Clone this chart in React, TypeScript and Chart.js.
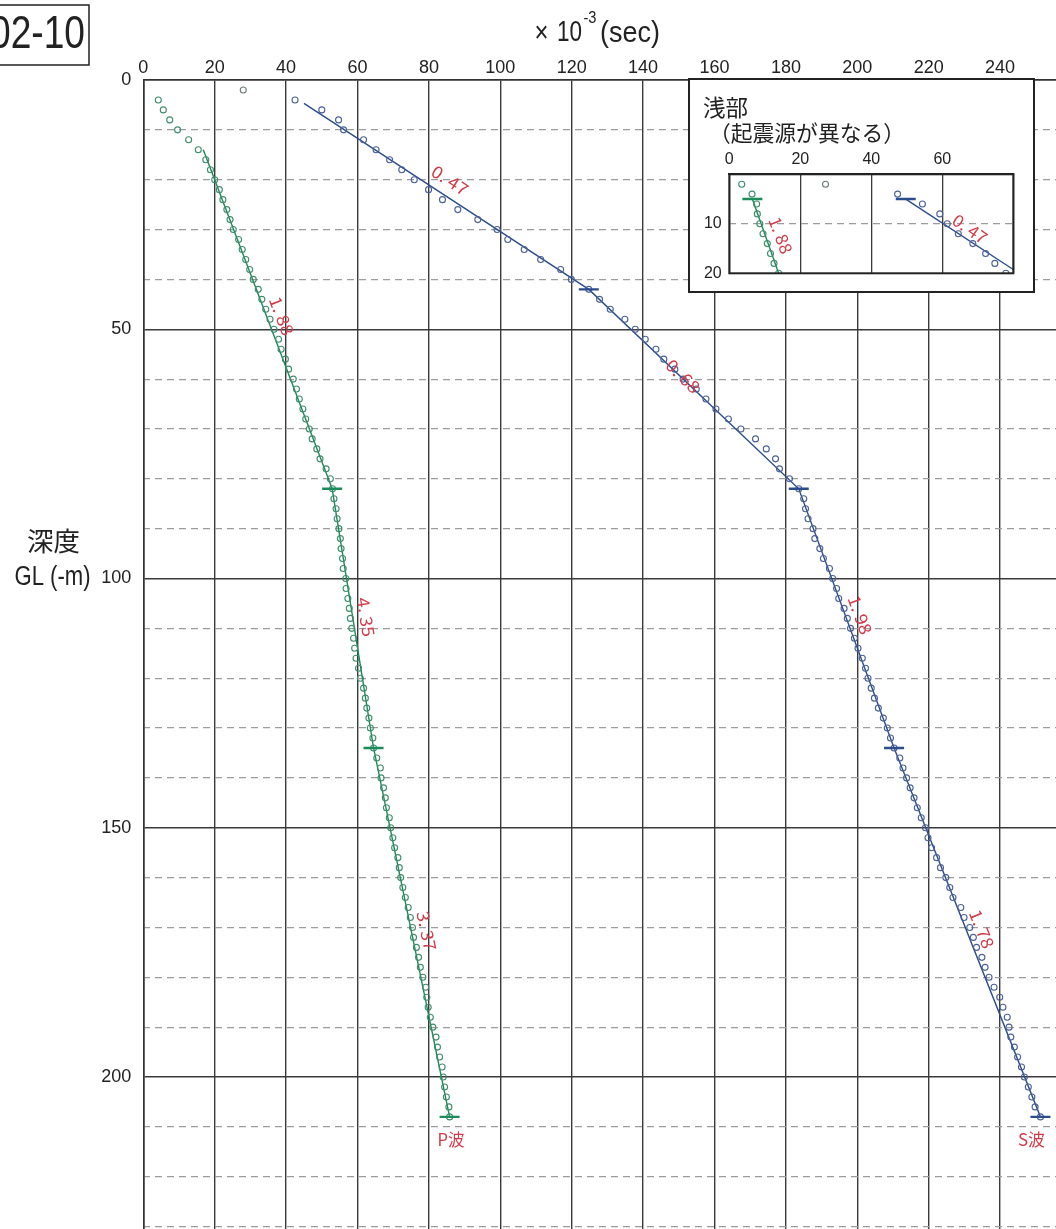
import React, { useEffect, useRef } from "react";
import { Chart, registerables } from "chart.js";
Chart.register(...registerables);

// ---- main chart data (time in 1e-3 s, depth in m) ----
const depths = [4,6,8,10,12,14,16,18,20,22,24,26,28,30,32,34,36,38,40,42,44,46,48,50,52,54,56,58,60,62,64,66,68,70,72,74,76,78,80,82,84,86,88,90,92,94,96,98,100,102,104,106,108,110,112,114,116,118,120,122,124,126,128,130,132,134,136,138,140,142,144,146,148,150,152,154,156,158,160,162,164,166,168,170,172,174,176,178,180,182,184,186,188,190,192,194,196,198,200,202,204,206,208];
const pTimes = [4.2,5.6,7.4,9.6,12.7,15.4,17.5,18.8,20.0,21.3,22.3,23.4,24.3,25.2,26.7,27.7,28.7,29.8,30.8,32.2,33.2,34.3,35.5,36.6,37.9,38.6,39.8,40.7,42.0,42.9,43.7,44.7,45.5,46.5,47.3,48.6,49.5,51.2,52.4,53.0,53.4,54.0,54.3,54.8,55.2,55.4,55.8,56.0,56.7,56.8,57.3,57.7,58.0,58.4,58.9,59.2,59.6,60.3,60.8,61.7,62.2,62.6,63.2,63.6,64.3,64.5,65.4,66.4,66.6,67.3,67.8,68.1,68.9,69.3,69.9,70.4,71.3,71.7,72.1,72.7,73.4,74.2,74.8,75.4,75.7,76.5,77.1,77.6,78.3,79.1,79.4,79.8,80.4,81.1,82.0,82.4,83.0,83.7,84.0,84.4,84.9,85.6,85.8];
const sTimes = [42.5,50.0,54.7,56.1,61.7,65.2,69.0,72.4,75.9,79.9,83.8,88.1,93.7,99.1,102.1,106.7,111.3,116.9,119.9,124.8,127.8,130.8,134.9,137.8,140.6,143.6,145.8,148.9,151.2,154.9,157.6,160.4,163.9,167.4,171.5,174.5,177.1,178.2,181.0,183.6,185.0,185.5,186.2,187.6,188.1,189.5,190.5,192.2,193.1,194.2,194.8,196.3,197.2,198.1,199.2,200.2,201.4,202.3,203.0,203.9,204.8,205.9,207.3,208.4,209.3,210.3,211.9,212.8,213.8,214.8,215.9,216.8,217.9,219.1,219.8,220.8,222.2,223.3,224.8,225.9,226.8,229.0,229.9,231.5,232.5,233.4,234.9,235.8,236.9,238.3,239.9,240.8,242.0,242.5,243.0,244.0,244.9,246.0,246.8,247.9,248.9,249.8,251.3];
const oddTimes = [28.0];
const oddDepths = [2];

const pLineTimes = [16.8, 52.9, 64.5, 85.8];
const pLineDepths = [14, 82, 134, 208];
const sLineTimes = [45.0, 124.8, 183.6, 210.3, 251.3];
const sLineDepths = [4.7, 42, 82, 134, 208];
const pBreakTimes = [52.9, 64.5, 85.8];
const pBreakDepths = [82, 134, 208];
const sBreakTimes = [124.8, 183.6, 210.3, 251.3];
const sBreakDepths = [42, 82, 134, 208];

const slopeTexts = ["0. 47", "0. 68", "1. 98", "1. 78", "1. 88", "4. 35", "3. 37"];
const slopeTimes = [85.9, 151.2, 200.8, 234.9, 38.8, 62.4, 79.4];
const slopeDepths = [20.1, 59.4, 107.3, 170.3, 47.3, 107.7, 170.7];
const slopeAngles = [33, 44, 70, 68, 69, 81, 78];

const waveLabels = ["P波", "S波"];
const waveLabelTimes = [86.2, 248.8];
const waveLabelDepths = [212.5, 212.5];

// ---- inset data ----
const insetPDepths = [2,4,6,8,10,12,14,16,18,20];
const insetPTimes = [3.5,6.4,7.7,7.9,8.6,9.5,10.7,11.6,12.6,13.9];
const insetSDepths = [4,6,8,10,12,14,16,18,20];
const insetSTimes = [47.4,54.4,59.3,61.4,64.5,68.6,72.2,74.8,77.9];
const insetOddTimes = [27.1];
const insetOddDepths = [2];
const insetPLineTimes = [6.5, 13.9];
const insetPLineDepths = [5, 20];
const insetSLineTimes = [49.7, 81.6];
const insetSLineDepths = [5, 20];
const insetSlopeTexts = ["1. 88", "0. 47"];
const insetSlopeTimes = [14.5, 67.8];
const insetSlopeDepths = [12.3, 11.0];
const insetSlopeAngles = [69, 35];

const FONT = '"Liberation Sans Narrow", "Liberation Sans", Arial, sans-serif';
const CJK = '"Noto Sans CJK JP", "Noto Sans", sans-serif';
const RED = "#d23c4a";
const GREEN_LINE = "#1d8a5a";
const BLUE_LINE = "#2c4d8c";
const GREEN_PT = "#3f8d6c";
const BLUE_PT = "#4a6096";
const GRAY_PT = "#6d7d74";
const DARK = "#3a3a3a";
const DASH = "#9c9c9c";

const CW = 1100, CH = 1300;
const PX_X = 3.57, PX_Y = 4.985;
const LEFT = 143.3, TOP = 80;

const zip = (xs: number[], ys: number[]) => xs.map((x, i) => ({ x, y: ys[i] }));

function drawFit(ctx: CanvasRenderingContext2D, text: string, x: number, y: number, w: number, size: number, family: string, color: string, align: CanvasTextAlign = "center", angle = 0) {
  ctx.save();
  ctx.font = `${size}px ${family}`;
  const m = ctx.measureText(text).width || 1;
  ctx.translate(x, y);
  if (angle) ctx.rotate((angle * Math.PI) / 180);
  ctx.scale(w / m, 1);
  ctx.textAlign = align;
  ctx.textBaseline = "middle";
  ctx.fillStyle = color;
  ctx.fillText(text, 0, 0);
  ctx.restore();
}

const mainTextPlugin = {
  id: "mainText",
  afterDraw(chart: any) {
    const ctx: CanvasRenderingContext2D = chart.ctx;
    const xs = chart.scales.x, ys = chart.scales.y;
    // id box
    ctx.save();
    ctx.strokeStyle = "#222";
    ctx.lineWidth = 1.5;
    ctx.strokeRect(-5, 5, 94, 60);
    ctx.restore();
    drawFit(ctx, "02-10", 37.5, 35, 95, 46, FONT, "#222");
    // axis title
    drawFit(ctx, "×", 541.5, 34, 14, 30, FONT, "#222");
    drawFit(ctx, "10", 569.5, 33, 25, 29, FONT, "#222");
    drawFit(ctx, "-3", 590, 18.5, 13, 16, FONT, "#222");
    drawFit(ctx, "(sec)", 630, 33.5, 60, 29, FONT, "#222");
    // y title
    drawFit(ctx, "深度", 53.5, 541, 53, 26, CJK, "#222");
    drawFit(ctx, "GL (-m)", 52.5, 578, 76, 27, FONT, "#222");
    // wave labels
    waveLabels.forEach((t, i) => {
      drawFit(ctx, t, xs.getPixelForValue(waveLabelTimes[i]), ys.getPixelForValue(waveLabelDepths[i]), 27, 17, CJK, RED);
    });
    // slope labels
    slopeTexts.forEach((t, i) => {
      drawFit(ctx, t, xs.getPixelForValue(slopeTimes[i]), ys.getPixelForValue(slopeDepths[i]), 40, 17, CJK, RED, "center", slopeAngles[i]);
    });
  },
};

const insetTextPlugin = {
  id: "insetText",
  afterDraw(chart: any) {
    const ctx: CanvasRenderingContext2D = chart.ctx;
    const a = chart.chartArea;
    ctx.save();
    ctx.strokeStyle = "#222";
    ctx.lineWidth = 2;
    ctx.strokeRect(a.left, a.top, a.right - a.left, a.bottom - a.top);
    ctx.restore();
    drawFit(ctx, "浅部", 35.5, 27, 45, 23, CJK, "#222");
    drawFit(ctx, "（起震源が異なる）", 117, 53, 196, 22, CJK, "#222");
    const xs = chart.scales.x, ys = chart.scales.y;
    insetSlopeTexts.forEach((t, i) => {
      drawFit(ctx, t, xs.getPixelForValue(insetSlopeTimes[i]), ys.getPixelForValue(insetSlopeDepths[i]), 38, 17, CJK, RED, "center", insetSlopeAngles[i]);
    });
  },
};

function lineDs(data: any[], color: string) {
  return { data, showLine: true, borderColor: color, borderWidth: 1.4, pointRadius: 0, fill: false };
}
function ptDs(data: any[], color: string) {
  return { data, showLine: false, pointRadius: 3, pointBorderWidth: 1.1, pointBorderColor: color, pointBackgroundColor: "rgba(255,255,255,0)" };
}
function breakDs(data: any[], color: string, r: number) {
  return { data, showLine: false, pointStyle: "line", pointRadius: r, pointBorderWidth: 2.4, pointBorderColor: color, borderColor: color };
}

export default function App() {
  const mainRef = useRef<HTMLCanvasElement>(null);
  const insetRef = useRef<HTMLCanvasElement>(null);

  useEffect(() => {
    const main = new Chart(mainRef.current as HTMLCanvasElement, {
      type: "scatter",
      data: {
        datasets: [
          breakDs(zip(pBreakTimes, pBreakDepths), GREEN_LINE, 10),
          breakDs(zip(sBreakTimes, sBreakDepths), BLUE_LINE, 10),
          ptDs(zip(pTimes, depths), GREEN_PT),
          ptDs(zip(sTimes, depths), BLUE_PT),
          ptDs(zip(oddTimes, oddDepths), GRAY_PT),
          lineDs(zip(pLineTimes, pLineDepths), GREEN_LINE),
          lineDs(zip(sLineTimes, sLineDepths), BLUE_LINE),
        ] as any,
      },
      options: {
        responsive: false,
        animation: false,
        events: [],
        layout: { padding: { left: 0, top: 0, right: CW - LEFT - 260 * PX_X, bottom: CH - TOP - 240 * PX_Y } },
        plugins: { legend: { display: false }, tooltip: { enabled: false } },
        scales: {
          x: {
            type: "linear", position: "top", min: 0, max: 260,
            ticks: { stepSize: 20, autoSkip: false, maxRotation: 0, padding: 1, color: "#222", font: { family: FONT, size: 18 }, callback: (v: any) => (v > 240 ? "" : String(v)) },
            grid: { color: DARK, lineWidth: 1.4, drawTicks: false },
            border: { color: "#333", width: 1.6 },
            afterFit: (s: any) => { s.height = TOP; },
          },
          y: {
            type: "linear", position: "left", reverse: true, min: 0, max: 240,
            ticks: { stepSize: 50, autoSkip: false, padding: 12, color: "#222", font: { family: FONT, size: 18 }, callback: (v: any) => (v > 200 ? "" : String(v)) },
            grid: { color: DARK, lineWidth: 1.4, drawTicks: false },
            border: { color: "#333", width: 1.6 },
            afterFit: (s: any) => { s.width = LEFT; },
          },
          yMinor: {
            type: "linear", position: "left", reverse: true, min: 0, max: 240,
            ticks: { stepSize: 10, display: false, autoSkip: false },
            grid: { color: (c: any) => (c.tick && c.tick.value % 50 === 0 ? "rgba(0,0,0,0)" : DASH), lineWidth: 1.2, drawTicks: false },
            border: { display: false, dash: [7, 5] },
            afterFit: (s: any) => { s.width = 0; },
          },
        },
      } as any,
      plugins: [mainTextPlugin],
    });

    const inset = new Chart(insetRef.current as HTMLCanvasElement, {
      type: "scatter",
      data: {
        datasets: [
          breakDs(zip([insetPLineTimes[0]], [insetPLineDepths[0]]), GREEN_LINE, 10),
          breakDs(zip([insetSLineTimes[0]], [insetSLineDepths[0]]), BLUE_LINE, 10),
          ptDs(zip(insetPTimes, insetPDepths), GREEN_PT),
          ptDs(zip(insetSTimes, insetSDepths), BLUE_PT),
          ptDs(zip(insetOddTimes, insetOddDepths), GRAY_PT),
          lineDs(zip(insetPLineTimes, insetPLineDepths), GREEN_LINE),
          lineDs(zip(insetSLineTimes, insetSLineDepths), BLUE_LINE),
        ] as any,
      },
      options: {
        responsive: false,
        animation: false,
        events: [],
        layout: { padding: { left: 0, top: 0, right: 343 - 39.3 - 80 * 3.55, bottom: 211 - 94.3 - 20 * 4.95 } },
        plugins: { legend: { display: false }, tooltip: { enabled: false } },
        scales: {
          x: {
            type: "linear", position: "top", min: 0, max: 80,
            ticks: { stepSize: 20, autoSkip: false, maxRotation: 0, padding: 4.7, color: "#222", font: { family: FONT, size: 16 }, callback: (v: any) => (v >= 80 ? "" : String(v)) },
            grid: { color: DARK, lineWidth: 1.3, drawTicks: false },
            border: { color: "#222", width: 2 },
            afterFit: (s: any) => { s.height = 94.3; },
          },
          y: {
            type: "linear", position: "left", reverse: true, min: 0, max: 20,
            ticks: { stepSize: 10, autoSkip: false, padding: 7.6, color: "#222", font: { family: FONT, size: 16 }, callback: (v: any) => (v === 0 ? "" : String(v)) },
            grid: { color: (c: any) => (c.tick && c.tick.value === 10 ? DASH : "rgba(0,0,0,0)"), lineWidth: 1.2, drawTicks: false },
            border: { display: false, dash: [7, 5] },
            afterFit: (s: any) => { s.width = 39.3; },
          },
        },
      } as any,
      plugins: [insetTextPlugin],
    });

    return () => {
      main.destroy();
      inset.destroy();
    };
  }, []);

  return (
    <div style={{ position: "fixed", left: 0, top: 0, width: 1056, height: 1229, overflow: "hidden", background: "#fff" }}>
      <canvas ref={mainRef} width={CW} height={CH} style={{ position: "absolute", left: 0, top: 0, width: CW, height: CH }} />
      <div style={{ position: "absolute", left: 688, top: 78, width: 347, height: 215, boxSizing: "border-box", border: "2px solid #222", background: "#fff" }}>
        <canvas ref={insetRef} width={343} height={211} style={{ position: "absolute", left: 0, top: 0, width: 343, height: 211 }} />
      </div>
    </div>
  );
}
